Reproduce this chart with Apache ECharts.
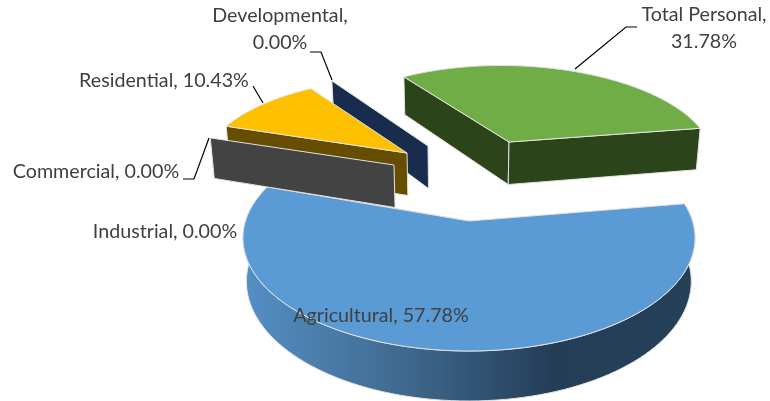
<!DOCTYPE html>
<html>
<head>
<meta charset="utf-8">
<title>Land use share</title>
<script src="https://cdn.jsdelivr.net/npm/echarts@6/dist/echarts.min.js"></script>
<style>
  html, body { margin: 0; padding: 0; background: #fff; }
  #chart { width: 770px; height: 401px; }
</style>
</head>
<body>
<div id="chart"></div>
<script>
// slice order as in the workbook, first slice starts at 80.8 deg
var categories = ["Agricultural", "Industrial", "Commercial", "Residential", "Developmental", "Total Personal"];
var values = [57.78, 0, 0, 10.43, 0, 31.78];
var startAngle = 80.8;

var topColors = ["#5b9bd5", "#843c0c", "#a5a5a5", "#ffc000", "#264478", "#70ad47"];
var wallColors = ["#254061", "#843c0c", "#434343", "#664d00", "#182c4e", "#2c4419"];
var drawOrder = [1, 0, 5, 4, 3, 2];

// exploded 3D look: tip position, radii, shear of each slice on screen
var tips = [[469, 221], [469, 221], [394, 165], [407, 153], [428, 146], [509, 142]];
var radiiX = [223.5, 223.5, 205, 201.7, 201.7, 199.8];
var radiiY = [110.5, 110.5, 88, 87, 88, 88];
var shears = [0, 0, -0.05, -0.048, -0.048, 0.104];
var persp = 0.15;
var depth = 42.5;
var vanishX = 460;

// label anchors and leader lines
var labelPos = [[381, 316], [165, 232], [96, 172], [164, 81], [280, 29], [704, 28]];
var labelBreak = [false, false, false, false, true, true];
var leaders = [
  null,
  null,
  [[183, 179], [194, 179], [209, 138]],
  [[253, 86], [263, 103]],
  [[310, 52], [321, 52], [332, 80]],
  [[637, 27], [626, 27], [575, 69]]
];

var total = values.reduce(function (a, b) { return a + b; }, 0);

function sliceAngles(i) {
  var before = 0;
  for (var k = 0; k < i; k++) before += values[k];
  return [startAngle + before / total * 360, startAngle + (before + values[i]) / total * 360];
}

function rimPoint(i, deg) {
  var t = deg * Math.PI / 180;
  var u = Math.sin(t);
  var v = -Math.cos(t);
  var w = 1 - persp * v;
  var dx = radiiX[i] * u / w;
  var dy = radiiY[i] * v / w;
  return { x: tips[i][0] + dx + shears[i] * dy, y: tips[i][1] + dy, w: w };
}

function upper(p) {
  return [p.x, p.y];
}

function lower(p) {
  return [p.x + (vanishX - p.x) * 0.016, p.y + depth / p.w];
}

function arc(i, a0, a1) {
  var pts = [];
  var n = Math.max(2, Math.ceil(Math.abs(a1 - a0) / 2));
  for (var k = 0; k <= n; k++) {
    pts.push(rimPoint(i, a0 + (a1 - a0) * k / n));
  }
  return pts;
}

function poly(points, fill, z2) {
  return {
    type: "polygon",
    z2: z2,
    shape: { points: points },
    style: { fill: fill, stroke: "#e2e2e2", lineWidth: 1, lineJoin: "round" }
  };
}

function radialWall(i, deg, z2) {
  var tip = { x: tips[i][0], y: tips[i][1], w: 1 };
  var rim = rimPoint(i, deg);
  return poly([upper(tip), upper(rim), lower(rim), lower(tip)], wallColors[i], z2);
}

function labelText(i) {
  var val = values[i].toFixed(2) + "%";
  return categories[i] + "," + (labelBreak[i] ? "\n" : " ") + val;
}

function renderItem(params, api) {
  var i = params.dataIndex;
  var val = api.value(1);
  var ang = sliceAngles(i);
  var base = drawOrder[i] * 10 + 1;
  var kids = [];

  if (val > 0) {
    var rim = arc(i, ang[0], ang[1]);
    if (i === 0) {
      // outer wall of the big front slice
      var lows = rim.map(lower).reverse();
      var wall = poly(rim.map(upper).concat(lows), new echarts.graphic.LinearGradient(0, 0, 1, 0, [
        { offset: 0, color: "#5490c6" },
        { offset: 0.3, color: "#437097" },
        { offset: 0.68, color: "#253e58" },
        { offset: 1, color: "#254059" }
      ]), base);
      kids.push(wall);
    } else {
      // inner walls facing the viewer
      kids.push(radialWall(i, ang[0], base));
      if (i === 5) kids.push(radialWall(i, ang[1], base + 1));
    }
    kids.push(poly([tips[i]].concat(rim.map(upper)), topColors[i], base + 2));
  } else {
    kids.push(radialWall(i, ang[0], base));
  }

  if (leaders[i]) {
    kids.push({
      type: "polyline",
      z2: 200,
      shape: { points: leaders[i] },
      style: { fill: null, stroke: "#000000", lineWidth: 1.2 }
    });
  }
  kids.push({
    type: "text",
    z2: 201,
    style: {
      x: labelPos[i][0],
      y: labelPos[i][1],
      text: labelText(i),
      fill: "#404040",
      font: "19.7px Lato",
      align: "center",
      verticalAlign: "middle",
      lineHeight: 27
    }
  });

  return { type: "group", children: kids };
}

var myChart = echarts.init(document.getElementById("chart"), null, { renderer: "canvas" });
myChart.setOption({
  backgroundColor: "#ffffff",
  animation: false,
  series: [
    {
      type: "custom",
      coordinateSystem: "none",
      silent: true,
      clip: false,
      renderItem: renderItem,
      data: values.map(function (v, i) { return [i, v]; })
    }
  ]
});
</script>
</body>
</html>
